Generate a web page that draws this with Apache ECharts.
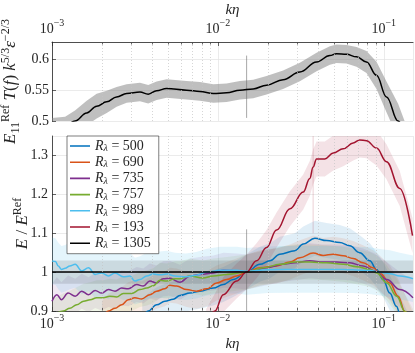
<!DOCTYPE html>
<html>
<head>
<meta charset="utf-8">
<script src="https://cdn.jsdelivr.net/npm/echarts@6/dist/echarts.min.js"></script>
<style>
  html, body { margin: 0; padding: 0; background: #fff; }
  #main { width: 415px; height: 353px; }
</style>
</head>
<body>
<div id="main"></div>
<script>
// ---- top panel: reference spectrum ----
const topK = [0.0010, 0.0012, 0.001376, 0.001619, 0.001859, 0.002137, 0.002452, 0.002818, 0.003392, 0.003803,
  0.004272, 0.004906, 0.006476, 0.00779, 0.009384, 0.01128, 0.01358, 0.01633, 0.01965, 0.02471,
  0.03119, 0.03932, 0.04732, 0.05188, 0.05957, 0.06852, 0.07864, 0.0904, 0.1038, 0.1220, 0.1400];
const topV = [0.490, 0.492, 0.500, 0.513, 0.524, 0.531, 0.539, 0.5445, 0.547, 0.5435,
  0.549, 0.5527, 0.550, 0.548, 0.5446, 0.5456, 0.550, 0.552, 0.558, 0.567,
  0.5795, 0.5956, 0.606, 0.609, 0.608, 0.604, 0.5956, 0.574, 0.539, 0.500, 0.455];
const topErr = [0.015, 0.015, 0.017, 0.02, 0.02, 0.018, 0.016, 0.015, 0.015, 0.015,
  0.015, 0.015, 0.015, 0.015, 0.015, 0.015, 0.015, 0.015, 0.015, 0.015,
  0.015, 0.015, 0.015, 0.015, 0.015, 0.016, 0.018, 0.022, 0.025, 0.028, 0.03];
const topSpikeK = [0.0149, 0.0149];
const topSpikeV = [0.505, 0.606];

// ---- bottom panel: ratios E / E^Ref ----
const k500 = [0.0035, 0.0038, 0.00427, 0.00479, 0.00538, 0.0059, 0.00678, 0.00779, 0.00938, 0.01077,
  0.01237, 0.0149, 0.0179, 0.0206, 0.0236, 0.0291, 0.0327, 0.0384, 0.0452, 0.0543,
  0.0624, 0.0716, 0.0824, 0.0904, 0.0991, 0.1087, 0.1192, 0.1248, 0.14];
const v500 = [0.88, 0.900, 0.916, 0.925, 0.930, 0.940, 0.946, 0.951, 0.959, 0.968,
  0.981, 1.000, 1.020, 1.029, 1.046, 1.055, 1.072, 1.087, 1.081, 1.076,
  1.068, 1.050, 1.029, 1.007, 0.981, 0.946, 0.912, 0.895, 0.85];

const k690 = [0.0020, 0.00219, 0.0024, 0.00263, 0.00288, 0.00316, 0.00347, 0.00389, 0.00427, 0.00479,
  0.00514, 0.00564, 0.00648, 0.00744, 0.00856, 0.00983, 0.01128, 0.01296, 0.0149, 0.0179,
  0.0226, 0.0272, 0.0312, 0.0375, 0.0431, 0.0496, 0.0569, 0.0654, 0.0750, 0.0862,
  0.0947, 0.1087, 0.1220, 0.1339, 0.15];
const v690 = [0.88, 0.900, 0.907, 0.916, 0.929, 0.934, 0.931, 0.942, 0.951, 0.957,
  0.966, 0.964, 0.955, 0.951, 0.957, 0.972, 0.981, 0.990, 1.000, 1.011,
  1.016, 1.026, 1.037, 1.049, 1.043, 1.046, 1.042, 1.035, 1.024, 1.011,
  0.998, 0.972, 0.938, 0.899, 0.85];

const k735 = [0.0010, 0.00107, 0.00114, 0.00125, 0.00138, 0.00151, 0.00166, 0.00182, 0.00199, 0.00219,
  0.0024, 0.00263, 0.00288, 0.00324, 0.00355, 0.00389, 0.00427, 0.00468, 0.00514, 0.0059,
  0.0068, 0.0078, 0.0094, 0.0108, 0.0130, 0.0149, 0.0197, 0.0246, 0.0291, 0.0358,
  0.0431, 0.0521, 0.0624, 0.0750, 0.0883, 0.1043, 0.1248, 0.15];
const v735 = [0.925, 0.942, 0.929, 0.946, 0.938, 0.951, 0.942, 0.953, 0.946, 0.955,
  0.951, 0.959, 0.957, 0.968, 0.964, 0.977, 0.972, 0.983, 0.984, 0.974,
  0.990, 0.994, 0.998, 1.005, 1.003, 1.000, 1.011, 1.020, 1.024, 1.029,
  1.026, 1.026, 1.024, 1.016, 1.003, 0.981, 0.955, 0.934];

const k757 = [0.0010, 0.00117, 0.00128, 0.00141, 0.00155, 0.0017, 0.00186, 0.00204, 0.00223, 0.00245,
  0.00269, 0.00302, 0.00339, 0.00372, 0.00408, 0.00447, 0.00491, 0.00551, 0.0059, 0.0068,
  0.0081, 0.0094, 0.0113, 0.0149, 0.0188, 0.0236, 0.0291, 0.0358, 0.0452, 0.0569,
  0.0687, 0.0824, 0.0908, 0.1043, 0.1197, 0.1339, 0.15];
const v757 = [0.885, 0.900, 0.907, 0.916, 0.925, 0.929, 0.934, 0.934, 0.938, 0.936,
  0.945, 0.945, 0.955, 0.959, 0.965, 0.979, 0.977, 0.983, 0.983, 0.990,
  0.985, 0.990, 0.994, 1.000, 1.011, 1.020, 1.026, 1.026, 1.024, 1.020,
  1.014, 1.007, 0.998, 0.972, 0.938, 0.899, 0.86];

const k989 = [0.0010, 0.00105, 0.00109, 0.00114, 0.0012, 0.00128, 0.00138, 0.00151, 0.00166, 0.00182,
  0.00199, 0.00219, 0.0024, 0.00269, 0.00295, 0.00316, 0.00339, 0.00372, 0.00408, 0.00447,
  0.00491, 0.00551, 0.0064, 0.0074, 0.0086, 0.0103, 0.0130, 0.0149, 0.020, 0.027,
  0.036, 0.050, 0.065, 0.082, 0.097, 0.109, 0.125, 0.15];
const v989 = [1.029, 1.027, 1.016, 1.007, 1.010, 1.016, 1.020, 1.003, 1.011, 0.994,
  0.998, 0.990, 0.998, 0.988, 0.990, 0.977, 0.981, 0.990, 0.995, 0.993,
  0.995, 0.990, 0.988, 0.992, 1.000, 1.005, 1.005, 1.002, 1.006, 1.007,
  1.007, 1.007, 1.006, 1.004, 0.999, 0.996, 0.990, 0.983];

const k193 = [0.0085, 0.0096, 0.01077, 0.01296, 0.0149, 0.0171, 0.01965, 0.02258, 0.0272, 0.0327,
  0.0358, 0.0375, 0.0393, 0.0441, 0.0496, 0.0569, 0.0654, 0.0716, 0.0786, 0.0904,
  0.1038, 0.1248, 0.149];
const v193 = [0.86, 0.90, 0.942, 0.977, 1.000, 1.029, 1.063, 1.108, 1.163, 1.206,
  1.241, 1.270, 1.291, 1.291, 1.306, 1.317, 1.332, 1.340, 1.338, 1.319,
  1.284, 1.215, 1.094];

const k1305 = [0.001, 0.15];
const v1305 = [1, 1];

const botSpikeK = [0.0149, 0.0149];
const botSpikeV = [0.90, 1.11];
const redSpikeK = [0.0375, 0.0375];
const redSpikeV = [1.10, 1.35];

const reNames = ['500', '690', '735', '757', '989', '193', '1305'];
const reColors = ['#0072BD', '#D95319', '#7E2F8E', '#77AC30', '#4DBEEE', '#A2142F', '#000000'];
const bandFill = ['rgba(0,114,189,0.12)', 'rgba(217,83,25,0.11)', 'rgba(126,47,142,0.11)', 'rgba(119,172,48,0.11)',
  'rgba(77,190,238,0.15)', 'rgba(162,20,47,0.12)', 'rgba(0,0,0,0.11)'];
const bandHalf = [0.045, 0.045, 0.045, 0.045, 0.06, 0.045, 0.03];
const kList = [k500, k690, k735, k757, k989, k193, k1305];
const vList = [v500, v690, v735, v757, v989, v193, v1305];

const serif = 'Liberation Serif';
const ink = '#262626';
const xMin = 0.001, xMax = 0.15;
const topMin = 0.5, topMax = 0.628;
const botMin = 0.9, botMax = 1.35;

// minor log positions (axis decoration only)
const minorX = [];
for (let e = -3; e <= -1; e++) {
  for (let m = 2; m <= 9; m++) {
    const v = m * Math.pow(10, e);
    if (v < xMax) minorX.push(v);
  }
}

function richSet(main, small, lh) {
  return {
    b: { fontFamily: serif, fontSize: main, lineHeight: lh, verticalAlign: 'middle', color: ink },
    i: { fontFamily: serif, fontStyle: 'italic', fontSize: main, lineHeight: lh, verticalAlign: 'middle', color: ink },
    s: { fontFamily: serif, fontSize: small, lineHeight: small, verticalAlign: 'top', color: ink },
    d: { fontFamily: serif, fontSize: small, lineHeight: small, verticalAlign: 'bottom', color: ink },
    di: { fontFamily: serif, fontStyle: 'italic', fontSize: small, lineHeight: small, verticalAlign: 'bottom', color: ink }
  };
}
const tickRich = richSet(14, 10, 22);
const titleRich = richSet(17, 12, 22);
const legendRich = richSet(14, 10, 15);

function logLabel(val) {
  const e = Math.round(Math.log10(val));
  return '{b|10}{s|' + (e < 0 ? '\u2212' + (-e) : e) + '}';
}

function bandSeries(xi, yi, ks, vs, half, fill, name) {
  const data = ks.map((k, i) => {
    const h = Array.isArray(half) ? half[i] : half;
    return [k, vs[i] - h, vs[i] + h];
  });
  return {
    name: name, type: 'custom', xAxisIndex: xi, yAxisIndex: yi, clip: true, silent: true, z: 1,
    data: data, encode: { x: 0, y: [1, 2] },
    renderItem: (params, api) => {
      if (params.dataIndex !== 0) return null;
      const up = data.map(d => api.coord([d[0], d[2]]));
      const dn = data.map(d => api.coord([d[0], d[1]])).reverse();
      return { type: 'polygon', shape: { points: up.concat(dn) }, style: { fill: fill } };
    }
  };
}

function pairs(ks, vs) {
  return ks.map((k, i) => [k, vs[i]]);
}

function minorGrid(y0, y1) {
  return minorX.map(v => [{ coord: [v, y0] }, { coord: [v, y1] }]);
}

const series = [];

// top panel
series.push(bandSeries(0, 0, topK, topV, topErr, 'rgba(128,128,128,0.5)', 'topBand'));
series.push({
  name: 'topSpike', type: 'line', xAxisIndex: 0, yAxisIndex: 0, symbol: 'none', z: 2, silent: true,
  data: pairs(topSpikeK, topSpikeV), lineStyle: { color: 'rgba(110,110,110,0.6)', width: 1 }
});
series.push({
  name: 'ref', type: 'line', xAxisIndex: 0, yAxisIndex: 0, symbol: 'none', z: 3, silent: true,
  smooth: 0.4, smoothMonotone: 'x',
  data: pairs(topK, topV), lineStyle: { color: '#000', width: 1.5 },
  markLine: {
    silent: true, symbol: ['none', 'none'], label: { show: false }, animation: false,
    lineStyle: { type: [1, 2], color: '#c4c4c4', width: 0.7 },
    data: minorGrid(topMin, topMax)
  }
});
series.push({
  name: 'topTicks', type: 'line', xAxisIndex: 0, yAxisIndex: 0, symbol: 'none', data: [], silent: true,
  markLine: {
    silent: true, symbol: ['none', 'none'], label: { show: false }, animation: false,
    lineStyle: { type: 'solid', color: ink, width: 0.7 },
    data: minorX.map(v => [{ coord: [v, topMax] }, { coord: [v, topMax - 0.004] }])
  }
});

// bottom panel bands
reNames.forEach((n, i) => {
  series.push(bandSeries(1, 1, kList[i], vList[i], bandHalf[i], bandFill[i], 'band' + n));
});
series.push({
  name: 'botSpike', type: 'line', xAxisIndex: 1, yAxisIndex: 1, symbol: 'none', z: 2, silent: true,
  data: pairs(botSpikeK, botSpikeV), lineStyle: { color: 'rgba(100,100,100,0.55)', width: 1 }
});
series.push({
  name: 'redSpike', type: 'line', xAxisIndex: 1, yAxisIndex: 1, symbol: 'none', z: 2, silent: true,
  data: pairs(redSpikeK, redSpikeV), lineStyle: { color: 'rgba(162,20,47,0.2)', width: 1 }
});
series.push({
  name: 'botTicks', type: 'line', xAxisIndex: 1, yAxisIndex: 1, symbol: 'none', data: [], silent: true,
  markLine: {
    silent: true, symbol: ['none', 'none'], label: { show: false }, animation: false,
    lineStyle: { type: 'solid', color: ink, width: 0.7 },
    data: minorX.map(v => [{ coord: [v, botMin] }, { coord: [v, botMin + 0.008] }])
  }
});
// bottom panel lines
reNames.forEach((n, i) => {
  const s = {
    name: n, type: 'line', xAxisIndex: 1, yAxisIndex: 1, symbol: 'none', z: 3, silent: true,
    smooth: 0.4, smoothMonotone: 'x',
    data: pairs(kList[i], vList[i]),
    color: reColors[i],
    lineStyle: { color: reColors[i], width: 1.5 }
  };
  if (n === '1305') {
    s.markLine = {
      silent: true, symbol: ['none', 'none'], label: { show: false }, animation: false,
      lineStyle: { type: [1, 2], color: '#c4c4c4', width: 0.7 },
      data: minorGrid(botMin, botMax)
    };
  }
  series.push(s);
});

const axisLineStyle = { lineStyle: { color: ink, width: 0.8 } };
const splitStyle = { show: true, lineStyle: { color: '#e3e3e3', width: 0.7 } };
const tickStyle = { inside: true, length: 4, lineStyle: { color: ink, width: 0.7 } };
const nameStyle = { fontFamily: serif, fontStyle: 'italic', fontSize: 15, color: ink };

const option = {
  animation: false,
  backgroundColor: '#fff',
  grid: [
    { left: 52, right: 2, top: 42, height: 79, outerBoundsMode: 'none', containLabel: false },
    { left: 52, right: 2, top: 136, height: 175, outerBoundsMode: 'none', containLabel: false }
  ],
  legend: {
    data: reNames,
    orient: 'vertical',
    left: 67, top: 136,
    itemWidth: 20, itemHeight: 14, itemGap: 1.7,
    padding: [3, 8, 3, 3],
    icon: 'path://M0,0h0.01v0.01h-0.01z M0,6.2h20v1.6h-20z M19.99,13.99h0.01v0.01h-0.01z',
    backgroundColor: '#fff',
    borderColor: ink, borderWidth: 0.6,
    z: 10,
    formatter: n => '{i|R}{di|\u03bb}{b| = ' + n + '}',
    textStyle: { rich: legendRich }
  },
  xAxis: [
    {
      type: 'log', logBase: 10, gridIndex: 0, position: 'top', min: xMin, max: xMax,
      name: 'k\u03b7', nameLocation: 'middle', nameGap: 22, nameTextStyle: nameStyle,
      axisLine: axisLineStyle, axisTick: tickStyle,
      axisLabel: { margin: 2, showMaxLabel: false, formatter: logLabel, rich: tickRich },
      splitLine: splitStyle
    },
    {
      type: 'log', logBase: 10, gridIndex: 1, position: 'bottom', min: xMin, max: xMax,
      name: 'k\u03b7', nameLocation: 'middle', nameGap: 26, nameTextStyle: nameStyle,
      axisLine: axisLineStyle, axisTick: tickStyle,
      axisLabel: { margin: 2, showMaxLabel: false, formatter: logLabel, rich: tickRich },
      splitLine: splitStyle
    }
  ],
  yAxis: [
    {
      type: 'value', gridIndex: 0, min: topMin, max: topMax, interval: 0.05,
      name: '{i|E}{d|11}{s|Ref}{i| T}{b|(}{i|f}{b|)}{i| k}{s|5/3}{i|\u03b5}{s|\u22122/3}',
      nameLocation: 'middle', nameGap: 30, nameRotate: 90, nameMoveOverlap: false,
      nameTextStyle: { rich: titleRich },
      axisLine: axisLineStyle, axisTick: tickStyle,
      axisLabel: { margin: 3, showMaxLabel: false, fontFamily: serif, fontSize: 14, color: ink },
      splitLine: splitStyle
    },
    {
      type: 'value', gridIndex: 1, min: botMin, max: botMax, interval: 0.1,
      name: '{i|E}{b| / }{i|E}{s|Ref}',
      nameLocation: 'middle', nameGap: 18, nameRotate: 90, nameMoveOverlap: false,
      nameTextStyle: { rich: titleRich },
      axisLine: axisLineStyle, axisTick: tickStyle,
      axisLabel: { margin: 4, showMaxLabel: false, fontFamily: serif, fontSize: 14, color: ink },
      splitLine: splitStyle
    }
  ],
  series: series
};

const myChart = echarts.init(document.getElementById('main'));
myChart.setOption(option);
</script>
</body>
</html>
